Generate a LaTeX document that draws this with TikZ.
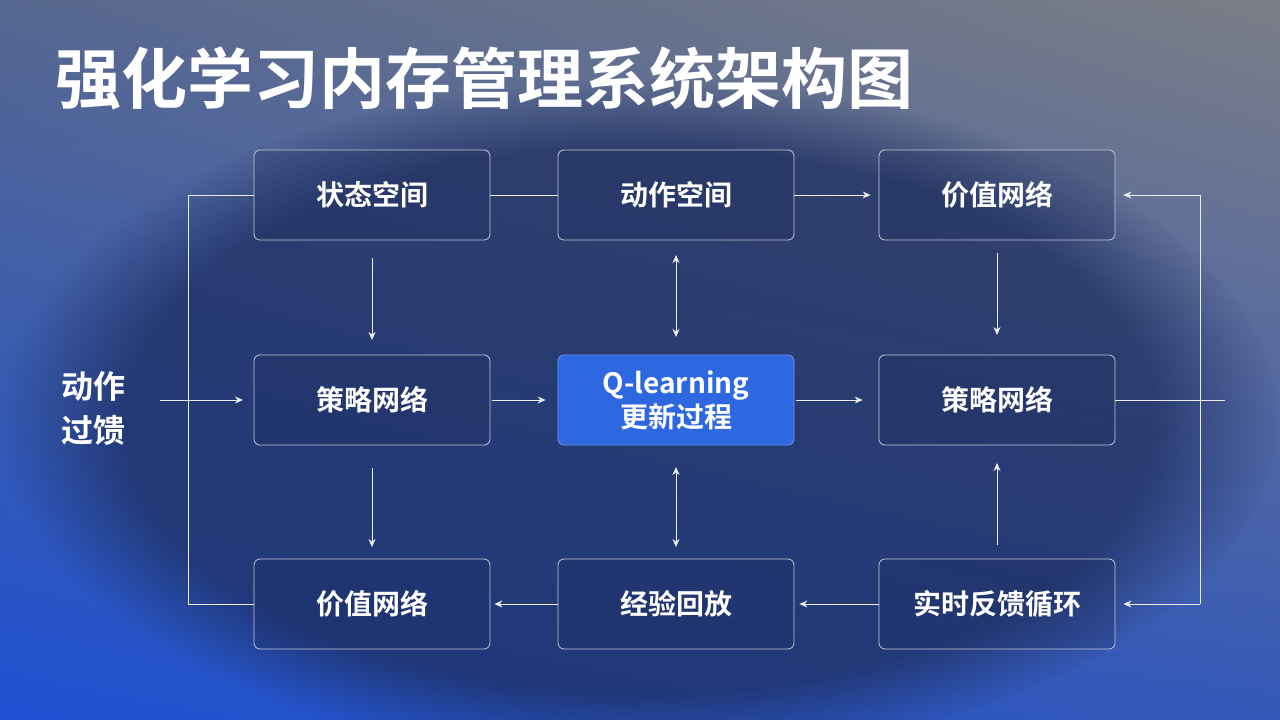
\documentclass[tikz,border=0pt]{standalone}
\usepackage{fontspec}
\setmainfont{Noto Sans CJK SC}
\newfontfamily\cjkb{Noto Sans CJK SC Bold}
\usetikzlibrary{arrows.meta,shadings,fadings}
\definecolor{ul}{HTML}{56678F}
\definecolor{ur}{HTML}{7B7E86}
\definecolor{ll}{HTML}{1E50D2}
\definecolor{lr}{HTML}{3458B8}
\definecolor{navy}{HTML}{1C2C5C}
\definecolor{qblue}{HTML}{2F6BE6}
\tikzset{
 box/.style={draw=white!75!navy, line width=0.8pt, rounded corners=6pt, minimum width=236pt, minimum height=90pt, fill=navy, fill opacity=0.25, text opacity=1, text=white, font=\cjkb\fontsize{28pt}{32pt}\selectfont, align=center},
 qbox/.style={box, fill=qblue, fill opacity=0.95, draw=qblue!70!white},
 con/.style={draw=white!85!gray, line width=0.8pt},
 arr/.style={con, -{Stealth[length=8pt,width=7pt]}},
 darr/.style={con, {Stealth[length=8pt,width=7pt]}-{Stealth[length=8pt,width=7pt]}},
}
\begin{document}
\begin{tikzpicture}[x=1pt,y=-1pt]
\useasboundingbox (0,0) rectangle (1280,720);
\shade[upper left=ul, upper right=ur, lower left=ll, lower right=lr] (0,0) rectangle (1280,720);
\fill[navy, path fading=circle with fuzzy edge 20 percent, fit fading=true, opacity=0.7] (640,420) ellipse (640 and 340);
\node[anchor=west, text=white, font=\cjkb\fontsize{66pt}{72pt}\selectfont] (title) at (52,78) {强化学习内存管理系统架构图};
\node[box] (s) at (372,195) {状态空间};
\node[box] (a) at (676,195) {动作空间};
\node[box] (v1) at (997,195) {价值网络};
\node[box] (p1) at (372,400) {策略网络};
\node[qbox] (q) at (676,400) {Q-learning\\[2pt]更新过程};
\node[box] (p2) at (997,400) {策略网络};
\node[box] (v2) at (372,604) {价值网络};
\node[box] (e) at (676,604) {经验回放};
\node[box] (r) at (997,604) {实时反馈循环};
\node[text=white, font=\cjkb\fontsize{32pt}{44pt}\selectfont, align=center] (l) at (93,408) {动作\\过馈};
\coordinate (lx) at (160,400);
\draw[arr] (lx) -- (243,400);
\draw[con] (s.west) -- (188,195) -- (188,604) -- (v2.west);
\draw[con] (s.east) -- (a.west);
\draw[arr] (a.east) -- ([xshift=-8pt]v1.west);
\draw[con] (p2.east) -- (1225,400);
\draw[con] (1200,195) -- (1200,604);
\draw[arr] (1200,195) -- ([xshift=8pt]v1.east);
\draw[arr] (1200,604) -- ([xshift=8pt]r.east);
\draw[arr] (372,258) -- (372,340);
\draw[arr] (372,468) -- (372,547);
\draw[arr] (p1.east) ++(2,0) -- ([xshift=-12pt]q.west);
\draw[arr] (q.east) ++(2,0) -- ([xshift=-16pt]p2.west);
\draw[darr] (676,255) -- (676,337);
\draw[darr] (676,467) -- (676,547);
\draw[arr] (997,253) -- (997,335);
\draw[arr] (997,545) -- (997,463);
\draw[arr] (e.west) -- ([xshift=4pt]v2.east);
\draw[arr] (r.west) -- ([xshift=5pt]e.east);
\end{tikzpicture}
\end{document}
